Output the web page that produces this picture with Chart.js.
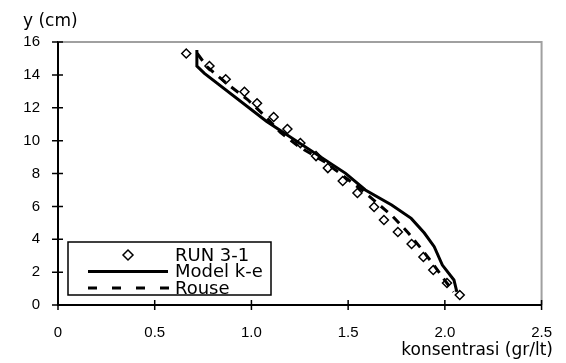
<!DOCTYPE html>
<html>
<head>
<meta charset="utf-8">
<script src="https://cdn.jsdelivr.net/npm/chart.js@4/dist/chart.umd.min.js"></script>
<style>
  html, body { margin: 0; padding: 0; background: #fff; }
  #wrap { width: 566px; height: 363px; }
</style>
</head>
<body>
<div id="wrap"><canvas id="c" width="566" height="363"></canvas></div>
<script>
// ---- data ----
const seriesNames = ["RUN 3-1", "Model k-e", "Rouse"];
const runX = [0.663, 0.783, 0.867, 0.964, 1.029, 1.115, 1.186, 1.253, 1.334, 1.395, 1.472, 1.548, 1.634, 1.685, 1.757, 1.828, 1.889, 1.940, 2.011, 2.077];
const runY = [15.30, 14.54, 13.73, 12.97, 12.27, 11.44, 10.71, 9.85, 9.06, 8.33, 7.54, 6.81, 5.96, 5.17, 4.44, 3.71, 2.92, 2.13, 1.34, 0.61];
const modelX = [0.718, 0.718, 0.757, 1.079, 1.487, 1.589, 1.725, 1.826, 1.894, 1.945, 1.987, 2.047, 2.062];
const modelY = [15.51, 14.54, 14.09, 11.16, 8.01, 7.00, 6.08, 5.27, 4.38, 3.55, 2.43, 1.52, 0.80];
const rouseX = [0.72, 0.77, 0.87, 0.98, 1.07, 1.15, 1.25, 1.38, 1.47, 1.57, 1.66, 1.73, 1.81, 1.88, 1.945, 2.00, 2.045];
const rouseY = [15.3, 14.5, 13.5, 12.5, 11.5, 10.5, 9.6, 8.7, 7.9, 7.0, 6.1, 5.4, 4.4, 3.4, 2.4, 1.5, 0.8];
const xTicks = [0, 0.5, 1, 1.5, 2, 2.5];
const yTicks = [0, 2, 4, 6, 8, 10, 12, 14, 16];
const xTitle = "konsentrasi (gr/lt)";
const yTitle = "y (cm)";

const pts = (xs, ys) => xs.map((x, i) => ({ x: x, y: ys[i] }));

const TICK_FONT = { family: "'Liberation Sans', Arial, sans-serif", size: 15 };
const TITLE_FONT = "17px 'DejaVu Sans', sans-serif";
const LEGEND_FONT = "18px 'DejaVu Sans', sans-serif";

const decorPlugin = {
  id: 'decor',
  afterDraw(chart) {
    const ctx = chart.ctx;
    const a = chart.chartArea;
    const xs = chart.scales.x, ys = chart.scales.y;
    ctx.save();
    // grey frame on top and right
    ctx.strokeStyle = '#a0a0a0';
    ctx.lineWidth = 2;
    ctx.beginPath();
    ctx.moveTo(a.left, a.top); ctx.lineTo(a.right, a.top); ctx.lineTo(a.right, a.bottom);
    ctx.stroke();
    // redraw axes on top
    ctx.strokeStyle = '#000';
    ctx.lineWidth = 2;
    ctx.beginPath();
    ctx.moveTo(a.left, a.top); ctx.lineTo(a.left, a.bottom); ctx.lineTo(a.right, a.bottom);
    ctx.stroke();
    // tick marks crossing the axes
    ctx.lineWidth = 1.5;
    ctx.beginPath();
    xTicks.forEach(v => {
      const px = xs.getPixelForValue(v);
      ctx.moveTo(px, a.bottom - 5); ctx.lineTo(px, a.bottom + 5);
    });
    yTicks.forEach(v => {
      const py = ys.getPixelForValue(v);
      ctx.moveTo(a.left - 6, py); ctx.lineTo(a.left + 5, py);
    });
    ctx.stroke();
    // axis titles
    ctx.fillStyle = '#000';
    ctx.font = TITLE_FONT;
    ctx.textBaseline = 'alphabetic';
    ctx.textAlign = 'left';
    ctx.fillText(yTitle, 23, 26);
    ctx.textAlign = 'right';
    ctx.fillText(xTitle, 553, 355);
    // legend
    const lx = 68, ly = 242, lw = 203, lh = 53;
    ctx.fillStyle = '#fff';
    ctx.fillRect(lx, ly, lw, lh);
    ctx.strokeStyle = '#000';
    ctx.lineWidth = 1.5;
    ctx.strokeRect(lx, ly, lw, lh);
    const ds = chart.data.datasets;
    const rows = [255, 271.5, 288];
    const sx1 = 88, sx2 = 168, tx = 175;
    ctx.font = LEGEND_FONT;
    ctx.textAlign = 'left';
    ctx.textBaseline = 'middle';
    // row 1: diamond
    {
      const cx = (sx1 + sx2) / 2, cy = rows[0], r = 5;
      ctx.beginPath();
      ctx.moveTo(cx - r, cy); ctx.lineTo(cx, cy - r); ctx.lineTo(cx + r, cy); ctx.lineTo(cx, cy + r); ctx.closePath();
      ctx.fillStyle = '#fff'; ctx.fill();
      ctx.lineWidth = 1.5; ctx.strokeStyle = '#000'; ctx.stroke();
    }
    // row 2: solid line
    ctx.beginPath(); ctx.lineWidth = 3; ctx.setLineDash([]);
    ctx.moveTo(sx1, rows[1]); ctx.lineTo(sx2, rows[1]); ctx.stroke();
    // row 3: dashed
    ctx.beginPath(); ctx.lineWidth = 3; ctx.setLineDash([9, 15]);
    ctx.moveTo(sx1, rows[2]); ctx.lineTo(sx2 + 1, rows[2]); ctx.stroke();
    ctx.setLineDash([]);
    ctx.fillStyle = '#000';
    ds.forEach((d, i) => ctx.fillText(d.label, tx, rows[i] + 1));
    ctx.restore();
  }
};

new Chart(document.getElementById('c'), {
  type: 'scatter',
  data: {
    datasets: [
      {
        label: seriesNames[0],
        data: pts(runX, runY),
        pointStyle: 'rectRot',
        pointRadius: 4.5,
        pointBorderWidth: 1.5,
        borderColor: '#000',
        backgroundColor: '#fff',
        showLine: false,
        order: 3
      },
      {
        label: seriesNames[1],
        data: pts(modelX, modelY),
        showLine: true,
        pointRadius: 0,
        borderColor: '#000',
        borderWidth: 3,
        tension: 0,
        fill: false,
        order: 1
      },
      {
        label: seriesNames[2],
        data: pts(rouseX, rouseY),
        showLine: true,
        pointRadius: 0,
        borderColor: '#000',
        borderWidth: 3,
        borderDash: [9, 7],
        tension: 0,
        fill: false,
        order: 2
      }
    ]
  },
  options: {
    responsive: false,
    devicePixelRatio: 1,
    animation: false,
    events: [],
    layout: { padding: { top: 42, right: 17, left: 0, bottom: 0 } },
    plugins: { legend: { display: false }, tooltip: { enabled: false } },
    scales: {
      x: {
        type: 'linear',
        min: 0, max: 2.5,
        afterBuildTicks: s => { s.ticks = xTicks.map(v => ({ value: v })); },
        afterFit: s => { s.height = 58; },
        grid: { display: false, drawTicks: true, tickLength: 5 },
        border: { display: true, color: '#000', width: 2 },
        ticks: { color: '#000', font: TICK_FONT, padding: 14, maxRotation: 0 }
      },
      y: {
        type: 'linear',
        min: 0, max: 16,
        afterBuildTicks: s => { s.ticks = yTicks.map(v => ({ value: v })); },
        afterFit: s => { s.width = 58; },
        grid: { display: false, drawTicks: true, tickLength: 6 },
        border: { display: true, color: '#000', width: 2 },
        ticks: { color: '#000', font: TICK_FONT, padding: 12 }
      }
    }
  },
  plugins: [decorPlugin]
});
</script>
</body>
</html>
